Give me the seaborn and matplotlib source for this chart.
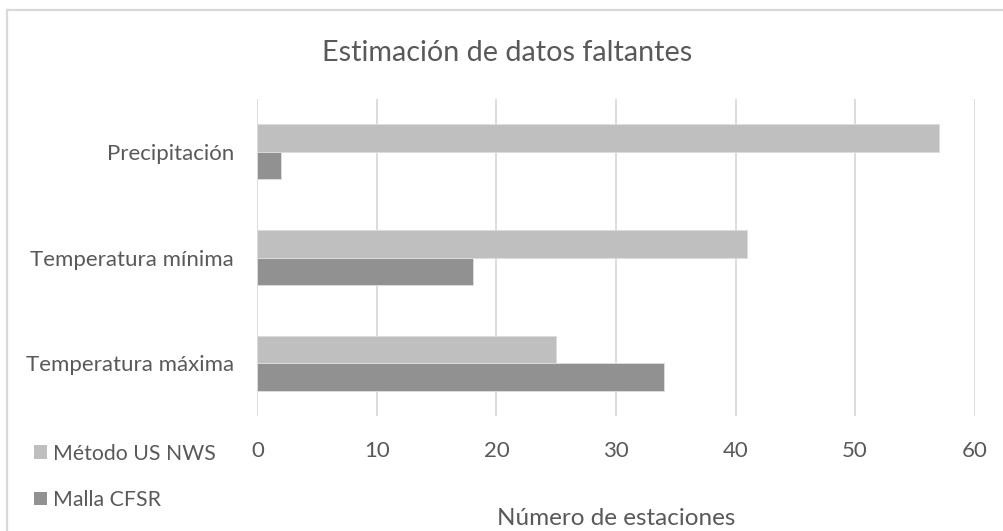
import matplotlib
matplotlib.use("Agg")
import matplotlib.pyplot as plt
import matplotlib.patches as mpatches
import seaborn as sns
import pandas as pd

categories = ["Precipitación", "Temperatura mínima", "Temperatura máxima"]
series_names = ["Método US NWS", "Malla CFSR"]
nws_values = [57, 41, 25]
cfsr_values = [2, 18, 34]
x_ticks = [0, 10, 20, 30, 40, 50, 60]

colors = {"Método US NWS": "#bfbfbf", "Malla CFSR": "#919191"}
text_color = "#595959"
grid_color = "#d9d9d9"

df = pd.DataFrame({
    "categoria": categories * 2,
    "serie": [series_names[0]] * 3 + [series_names[1]] * 3,
    "valor": nws_values + cfsr_values,
})

sns.set_theme(style="white")
plt.rcParams["font.family"] = ["Lato", "DejaVu Sans"]

fig = plt.figure(figsize=(10.04, 5.31), dpi=100)
ax = fig.add_axes([257.5 / 1004, 1 - 416 / 531, (974.5 - 257.5) / 1004, (416 - 99) / 531])

sns.barplot(
    data=df, y="categoria", x="valor", hue="serie", order=categories,
    hue_order=series_names, palette=colors, orient="h", width=0.52,
    edgecolor="#dcdcdc", linewidth=0.7, ax=ax, legend=False, zorder=3,
)

ax.set_xlim(0, 60)
ax.set_ylim(2.5, -0.5)
ax.set_xticks(x_ticks)
ax.set_xticklabels([str(t) for t in x_ticks])
ax.grid(axis="x", color=grid_color, linewidth=1.3, zorder=0)
ax.set_axisbelow(True)
for s in ax.spines.values():
    s.set_visible(False)
ax.tick_params(axis="both", length=0, labelsize=16, colors=text_color)
ax.tick_params(axis="x", pad=18)
ax.tick_params(axis="y", pad=17)
ax.set_ylabel("")
ax.set_xlabel("Número de estaciones", fontsize=17.5, color=text_color, labelpad=34)

fig.text(0.505, 1 - 53 / 531, "Estimación de datos faltantes", ha="center",
         va="center", fontsize=20.7, color=text_color)

handles = [mpatches.Patch(facecolor=colors[n], edgecolor="none", label=n) for n in series_names]
leg = fig.legend(handles=handles, loc="upper left", bbox_to_anchor=(0.025, 1 - 435 / 531),
                 frameon=False, fontsize=15.3, handlelength=0.62, handleheight=0.62,
                 handletextpad=0.3, labelspacing=1.25, borderaxespad=0)
for t in leg.get_texts():
    t.set_color(text_color)

# light border round the chart area
border = mpatches.Rectangle((7 / 1004, -0.05), 1.1, 1 - 10 / 531 + 0.05,
                            transform=fig.transFigure, fill=False,
                            edgecolor="#d9d9d9", linewidth=1.6, clip_on=False)
fig.patches.append(border)

fig.savefig("out.png", dpi=100, facecolor="white")
